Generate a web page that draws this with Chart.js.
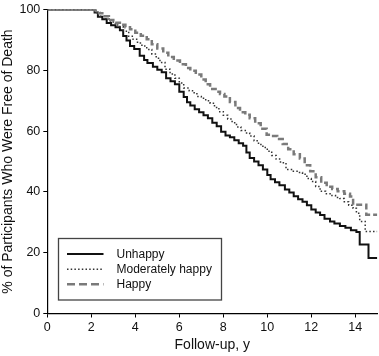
<!DOCTYPE html>
<html>
<head>
<meta charset="utf-8">
<script src="https://cdn.jsdelivr.net/npm/chart.js@4/dist/chart.umd.min.js"></script>
<style>
  html, body { margin: 0; padding: 0; background: #fff; }
  #wrap { width: 379px; height: 356px; position: relative; }
</style>
</head>
<body>
<div id="wrap"><canvas id="c"></canvas></div>
<script>
// ---- Data ----
const seriesNames = ['Unhappy', 'Moderately happy', 'Happy'];

const unhappyT = [0, 2.0, 2.15, 2.3, 2.5, 2.7, 2.9, 3.1, 3.3, 3.45, 3.6, 3.76, 3.95, 4.2, 4.4, 4.55, 4.8, 5.0, 5.2, 5.4, 5.6, 5.8, 6.0, 6.2, 6.35, 6.5, 6.7, 6.9, 7.1, 7.3, 7.5, 7.7, 7.9, 8.1, 8.3, 8.5, 8.7, 8.9, 9.05, 9.2, 9.4, 9.6, 9.8, 10.0, 10.15, 10.35, 10.55, 10.8, 11.0, 11.2, 11.4, 11.6, 11.8, 12.0, 12.2, 12.4, 12.6, 12.85, 13.05, 13.3, 13.55, 13.8, 14.05, 14.2, 14.6, 15.0];
const unhappyS = [100, 100, 99, 97.6, 96.8, 95.6, 94.8, 94.2, 93.2, 91.3, 89.8, 88, 87, 84.8, 83.4, 82.4, 81.2, 80.2, 79.4, 77.4, 76.4, 75.4, 73, 71.2, 69.5, 68.4, 67.2, 66.2, 65.2, 64.2, 62.8, 61.6, 59.8, 58.6, 58, 57, 56, 55.2, 53, 51.2, 50, 48.8, 47.4, 45.6, 44.2, 43.2, 42.2, 40.8, 39.8, 38.6, 37.6, 36.8, 35.6, 34.2, 33.2, 32.4, 31.2, 30.3, 29.6, 28.8, 28.2, 27.4, 26.8, 22.7, 18.3, 18.3];

const moderateT = [0, 2.0, 2.2, 2.4, 2.6, 2.8, 3.0, 3.2, 3.45, 3.7, 3.9, 4.1, 4.3, 4.52, 4.75, 4.95, 5.12, 5.35, 5.58, 5.8, 6.0, 6.2, 6.45, 6.6, 6.8, 7.0, 7.2, 7.4, 7.6, 7.8, 8.0, 8.2, 8.4, 8.6, 8.8, 9.0, 9.2, 9.4, 9.6, 9.8, 10.0, 10.2, 10.4, 10.6, 10.85, 11.1, 11.4, 11.6, 11.8, 12.0, 12.2, 12.4, 12.65, 12.9, 13.1, 13.3, 13.5, 13.7, 13.9, 14.05, 14.2, 14.45, 15.0];
const moderateS = [100, 100, 99, 97.8, 97, 96.2, 95.4, 94.4, 92.9, 91.2, 90.2, 89, 88, 86.9, 85.4, 84, 82.6, 80.4, 78.8, 77.4, 75.8, 74.2, 73.3, 72.6, 71.4, 70.8, 70, 69.2, 67.8, 66.4, 65.2, 64, 62.8, 61.4, 60.2, 59.4, 58.4, 56.8, 55.6, 54.6, 53.4, 52, 50.8, 49.6, 47.4, 46.8, 46.4, 45.8, 44.4, 43.4, 41.8, 40.2, 39.4, 38.8, 38.2, 37.8, 36.8, 35.6, 34.6, 33, 30.3, 27, 27];

const happyT = [0, 2.0, 2.2, 2.5, 2.8, 3.0, 3.3, 3.55, 3.76, 4.0, 4.25, 4.52, 4.75, 5.0, 5.27, 5.5, 5.75, 6.03, 6.3, 6.5, 6.75, 7.0, 7.2, 7.4, 7.65, 7.85, 8.05, 8.3, 8.55, 8.76, 9.0, 9.2, 9.45, 9.7, 9.97, 10.2, 10.45, 10.7, 10.95, 11.2, 11.48, 11.7, 11.95, 12.2, 12.45, 12.7, 12.95, 13.2, 13.5, 13.76, 13.9, 14.5, 15.0];
const happyS = [100, 100, 98.8, 97.8, 96.6, 95.7, 95, 94.2, 93.5, 92.4, 91.4, 90.2, 88.6, 87.2, 85.8, 84.4, 83.2, 82, 80.8, 79.9, 78.6, 77, 75.4, 73.9, 73, 72.2, 71.4, 69.6, 67.6, 66.2, 65.4, 64.2, 62.6, 60.8, 58.8, 58.4, 57.4, 55.8, 54, 52.4, 51, 48.8, 46.8, 44.8, 43, 41.7, 41, 40.2, 39.4, 38.5, 35.8, 32.5, 32.5];

const xTickValues = [0, 2, 4, 6, 8, 10, 12, 14];
const yTickValues = [0, 20, 40, 60, 80, 100];
const xTitle = 'Follow-up, y';
const yTitle = '% of Participants Who Were Free of Death';

// ---- Build ----
const toPts = (t, s) => t.map((v, i) => ({ x: v, y: s[i] }));
const FONT = "'Liberation Sans', Arial, Helvetica, sans-serif";

const styles = [
  { color: '#111111', width: 2, dash: [] },
  { color: '#333333', width: 1.5, dash: [1.5, 2.2] },
  { color: '#7a7a7a', width: 2.5, dash: [6, 3] }
];
const seriesData = [toPts(unhappyT, unhappyS), toPts(moderateT, moderateS), toPts(happyT, happyS)];

const datasets = seriesNames.map((name, i) => ({
  label: name,
  data: seriesData[i],
  borderColor: styles[i].color,
  borderWidth: styles[i].width,
  borderDash: styles[i].dash,
  stepped: true,
  pointRadius: 0,
  fill: false,
  tension: 0,
  order: 3 - i
}));

const legendBox = {
  id: 'legendBox',
  afterDatasetsDraw(chart) {
    const ctx = chart.ctx;
    const left = 58.5, top = 238.5, right = 221.5, bottom = 300;
    ctx.save();
    ctx.fillStyle = '#ffffff';
    ctx.fillRect(left, top, right - left, bottom - top);
    ctx.strokeStyle = '#444444';
    ctx.lineWidth = 1.3;
    ctx.setLineDash([]);
    ctx.strokeRect(left, top, right - left, bottom - top);
    const rows = [254, 269.3, 284.3];
    ctx.font = '12px ' + FONT;
    ctx.textBaseline = 'middle';
    ctx.textAlign = 'left';
    chart.data.datasets.forEach((ds, i) => {
      ctx.beginPath();
      ctx.strokeStyle = ds.borderColor;
      ctx.lineWidth = ds.borderWidth;
      ctx.setLineDash(i === 2 ? [8, 4] : ds.borderDash);
      ctx.moveTo(67, rows[i]);
      ctx.lineTo(103.5, rows[i]);
      ctx.stroke();
      ctx.setLineDash([]);
      ctx.fillStyle = '#111';
      ctx.fillText(ds.label, 116.5, rows[i] + 0.5);
    });
    ctx.restore();
  }
};

new Chart(document.getElementById('c'), {
  type: 'line',
  data: { datasets },
  plugins: [legendBox],
  options: {
    responsive: true,
    maintainAspectRatio: false,
    animation: false,
    layout: { padding: { top: 0, right: 1.7, bottom: 0, left: 0 } },
    plugins: { legend: { display: false }, tooltip: { enabled: false } },
    scales: {
      x: {
        type: 'linear',
        min: 0, max: 15,
        afterBuildTicks: s => { s.ticks = xTickValues.map(v => ({ value: v })); },
        afterFit: s => { s.height = 42.5; },
        grid: { drawOnChartArea: false, tickLength: 4, color: '#000', tickColor: '#000', tickWidth: 1 },
        border: { display: true, color: '#000', width: 1.2 },
        ticks: { color: '#111', font: { family: FONT, size: 12.5, lineHeight: 1.1 }, padding: 3, maxRotation: 0 },
        title: { display: true, text: xTitle, color: '#111', font: { family: FONT, size: 14 }, padding: { top: 0, bottom: 2 } }
      },
      y: {
        type: 'linear',
        min: 0, max: 100,
        afterBuildTicks: s => { s.ticks = yTickValues.map(v => ({ value: v })); },
        afterFit: s => { s.width = 47.3; },
        grid: { drawOnChartArea: false, tickLength: 4, color: '#000', tickColor: '#000', tickWidth: 1 },
        border: { display: true, color: '#000', width: 1.2 },
        ticks: { color: '#111', font: { family: FONT, size: 12.5, lineHeight: 1.05 }, padding: 3 },
        title: { display: true, text: yTitle, color: '#111', font: { family: FONT, size: 14 }, padding: { top: 0, bottom: 0 } }
      }
    }
  }
});
</script>
</body>
</html>
